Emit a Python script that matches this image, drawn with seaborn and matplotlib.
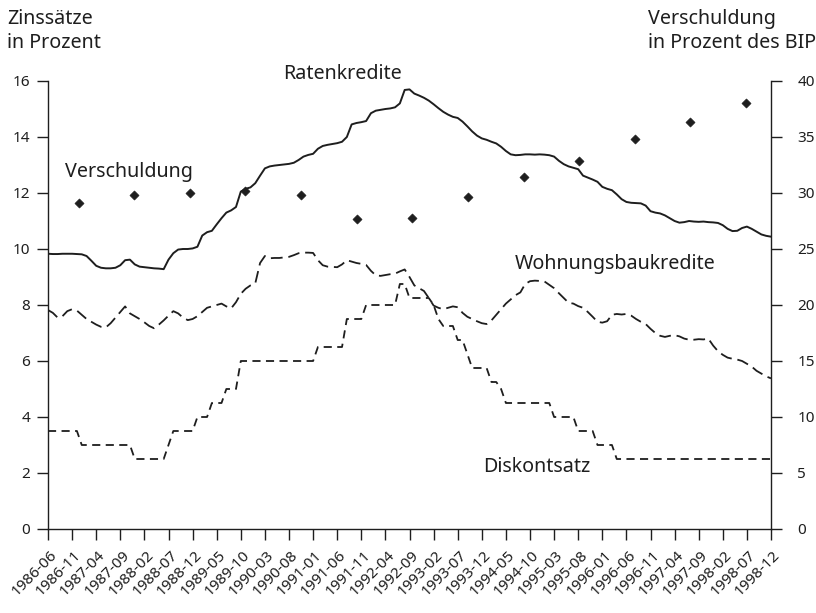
import matplotlib
matplotlib.use("Agg")
import matplotlib.pyplot as plt
import matplotlib.transforms as mtransforms
import numpy as np
import pandas as pd
import seaborn as sns

# ---------------- data ----------------
months = pd.period_range("1986-06", "1998-12", freq="M").strftime("%Y-%m").tolist()

tick_labels = ["1986-06", "1986-11", "1987-04", "1987-09", "1988-02", "1988-07",
               "1988-12", "1989-05", "1989-10", "1990-03", "1990-08", "1991-01",
               "1991-06", "1991-11", "1992-04", "1992-09", "1993-02", "1993-07",
               "1993-12", "1994-05", "1994-10", "1995-03", "1995-08", "1996-01",
               "1996-06", "1996-11", "1997-04", "1997-09", "1998-02", "1998-07",
               "1998-12"]

ratenkredite = [
    9.83, 9.82, 9.82, 9.83, 9.83, 9.83, 9.82, 9.81, 9.75, 9.58,
    9.40, 9.33, 9.31, 9.31, 9.33, 9.42, 9.60, 9.62, 9.45, 9.37,
    9.35, 9.33, 9.31, 9.30, 9.28, 9.62, 9.85, 9.98, 10.00, 10.00,
    10.02, 10.08, 10.48, 10.60, 10.65, 10.88, 11.10, 11.30, 11.38, 11.50,
    12.05, 12.15, 12.20, 12.35, 12.62, 12.88, 12.95, 12.98, 13.00, 13.02,
    13.04, 13.08, 13.18, 13.30, 13.36, 13.40, 13.58, 13.68, 13.72, 13.75,
    13.78, 13.83, 14.00, 14.45, 14.50, 14.53, 14.57, 14.85, 14.94, 14.97,
    15.00, 15.02, 15.06, 15.20, 15.68, 15.70, 15.55, 15.48, 15.40, 15.30,
    15.17, 15.03, 14.90, 14.80, 14.72, 14.68, 14.55, 14.38, 14.20, 14.05,
    13.95, 13.90, 13.83, 13.77, 13.65, 13.50, 13.38, 13.35, 13.36, 13.38,
    13.38, 13.37, 13.38, 13.37, 13.35, 13.30, 13.15, 13.03, 12.95, 12.90,
    12.85, 12.62, 12.55, 12.48, 12.40, 12.22, 12.15, 12.10, 11.95, 11.78,
    11.68, 11.65, 11.64, 11.63, 11.55, 11.35, 11.30, 11.27, 11.20, 11.10,
    11.00, 10.94, 10.96, 11.00, 10.98, 10.97, 10.98, 10.96, 10.95, 10.93,
    10.85, 10.72, 10.64, 10.65, 10.75, 10.80, 10.72, 10.62, 10.52, 10.47,
    10.44]

wohnungsbaukredite = [
    7.82, 7.72, 7.55, 7.60, 7.78, 7.85, 7.80, 7.65, 7.50, 7.40,
    7.30, 7.22, 7.20, 7.35, 7.55, 7.75, 7.95, 7.70, 7.60, 7.50,
    7.38, 7.25, 7.17, 7.30, 7.45, 7.62, 7.78, 7.70, 7.55, 7.46,
    7.50, 7.60, 7.75, 7.90, 7.95, 8.00, 8.05, 7.95, 7.88, 8.10,
    8.40, 8.58, 8.70, 8.77, 9.50, 9.75, 9.67, 9.68, 9.68, 9.70,
    9.72, 9.78, 9.85, 9.87, 9.87, 9.86, 9.60, 9.42, 9.37, 9.36,
    9.35, 9.45, 9.60, 9.55, 9.50, 9.47, 9.43, 9.22, 9.06, 9.04,
    9.07, 9.10, 9.12, 9.20, 9.27, 9.00, 8.70, 8.60, 8.50, 8.25,
    7.98, 7.90, 7.85, 7.90, 7.95, 7.92, 7.72, 7.58, 7.50, 7.42,
    7.35, 7.32, 7.45, 7.65, 7.85, 8.05, 8.20, 8.35, 8.45, 8.75,
    8.85, 8.87, 8.86, 8.84, 8.72, 8.60, 8.42, 8.25, 8.08, 8.05,
    7.96, 7.90, 7.75, 7.58, 7.40, 7.37, 7.42, 7.65, 7.68, 7.66,
    7.68, 7.62, 7.50, 7.40, 7.32, 7.15, 7.00, 6.90, 6.86, 6.90,
    6.92, 6.88, 6.80, 6.76, 6.76, 6.78, 6.77, 6.80, 6.55, 6.35,
    6.22, 6.12, 6.08, 6.05, 6.00, 5.90, 5.80, 5.65, 5.55, 5.45,
    5.38]

diskontsatz = (
    [3.5] * 7 + [3.0] * 11 + [2.5] * 7 + [3.0] + [3.5] * 5 + [4.0] * 3 +
    [4.5] * 3 + [5.0] * 3 + [6.0] * 16 + [6.5] * 6 + [7.5] * 4 + [8.0] * 7 +
    [8.75] * 2 + [8.25] * 5 + [8.0] + [7.5] + [7.25] * 3 + [6.75] * 2 +
    [6.25] + [5.75] * 4 + [5.25] * 2 + [5.0] + [4.5] * 10 + [4.0] * 5 +
    [3.5] * 4 + [3.0] * 4 + [2.5] * 33)

debt_years = list(range(1986, 1999))
verschuldung = [29.1, 29.85, 30.0, 30.15, 29.85, 27.65, 27.75, 29.65,
                31.45, 32.85, 34.85, 36.35, 38.0]

# ---------------- styling ----------------
sns.set_style("ticks")
plt.rcParams["font.family"] = ["Noto Sans", "DejaVu Sans"]
ink = "#1e1e1e"
plt.rcParams["text.color"] = ink
plt.rcParams["axes.edgecolor"] = ink
plt.rcParams["xtick.color"] = ink
plt.rcParams["ytick.color"] = ink

W, H = 816, 613
fig = plt.figure(figsize=(W / 100, H / 100), dpi=100)
L, R, T, B = 48, 771, 81, 529
ax = fig.add_axes([L / W, 1 - B / H, (R - L) / W, (B - T) / H])

df = pd.DataFrame({
    "month": months,
    "t": np.arange(len(months)),
    "Ratenkredite": ratenkredite,
    "Wohnungsbaukredite": wohnungsbaukredite,
    "Diskontsatz": diskontsatz,
})

sns.lineplot(data=df, x="t", y="Ratenkredite", ax=ax, color=ink, lw=1.4)
sns.lineplot(data=df, x="t", y="Wohnungsbaukredite", ax=ax, color=ink, lw=1.3,
             linestyle=(0, (6.5, 3.2)))
sns.lineplot(data=df, x="t", y="Diskontsatz", ax=ax, color=ink, lw=1.3,
             linestyle=(0, (4.5, 3.0)))

ax.set_xlim(0, len(months) - 1)
ax.set_ylim(0, 16)
ax.set_yticks(np.arange(0, 17, 2))
tick_pos = [months.index(m) for m in tick_labels]
ax.set_xticks(tick_pos)
ax.set_xticklabels([])
ax.tick_params(axis="both", direction="out", length=8, width=1, labelsize=11)
ax.tick_params(axis="y", pad=5)
ax.set_xlabel("")
ax.set_ylabel("")
for s in ["top", "right"]:
    ax.spines[s].set_visible(False)
for s in ["left", "bottom"]:
    ax.spines[s].set_linewidth(1.0)

# rotated month labels anchored below each tick
lab_tr = ax.get_xaxis_transform() + mtransforms.ScaledTranslation(
    7 / 100, -24 / 100, fig.dpi_scale_trans)
for pos, lab in zip(tick_pos, tick_labels):
    ax.text(pos, 0, lab, transform=lab_tr, rotation=45, ha="right",
            va="center", rotation_mode="anchor", fontsize=11, clip_on=False)

ax2 = ax.twinx()
ax2.set_ylim(0, 40)
ax2.set_yticks(np.arange(0, 41, 5))
ax2.tick_params(axis="y", direction="out", length=8, width=1, labelsize=11, pad=11)
ax2.spines["top"].set_visible(False)
ax2.spines["left"].set_visible(False)
ax2.spines["bottom"].set_visible(False)
ax2.spines["right"].set_linewidth(1.0)
ax2.set_ylabel("")

# annual debt series on its own year scale sharing the right-hand y axis
ax3 = ax2.twiny()
ax3.set_xlim(1985.45, 1998.45)
ddf = pd.DataFrame({"Jahr": debt_years, "Verschuldung": verschuldung})
sns.scatterplot(data=ddf, x="Jahr", y="Verschuldung", ax=ax3, marker="D",
                s=22, color=ink, edgecolor=ink, linewidth=0.4, zorder=5)
ax3.set_xticks([])
ax3.set_xlabel("")
ax3.set_ylabel("")
for s in ax3.spines.values():
    s.set_visible(False)
ax3.set_ylim(0, 40)

# annotations
fs = 14.2
ax.text(16.8, 12.75, "Verschuldung", ha="center", va="center", fontsize=fs)
ax.text(61.2, 16.25, "Ratenkredite", ha="center", va="center", fontsize=fs)
ax.text(117.7, 9.48, "Wohnungsbaukredite", ha="center", va="center", fontsize=fs)
ax.text(101.5, 2.2, "Diskontsatz", ha="center", va="center", fontsize=fs)

fig.text(7 / W, 1 - 9 / H, "Zinssätze\nin Prozent", ha="left", va="top",
         fontsize=fs, linespacing=1.25)
fig.text(648 / W, 1 - 9 / H, "Verschuldung\nin Prozent des BIP", ha="left",
         va="top", fontsize=fs, linespacing=1.25)

fig.savefig("out.png", dpi=100)
